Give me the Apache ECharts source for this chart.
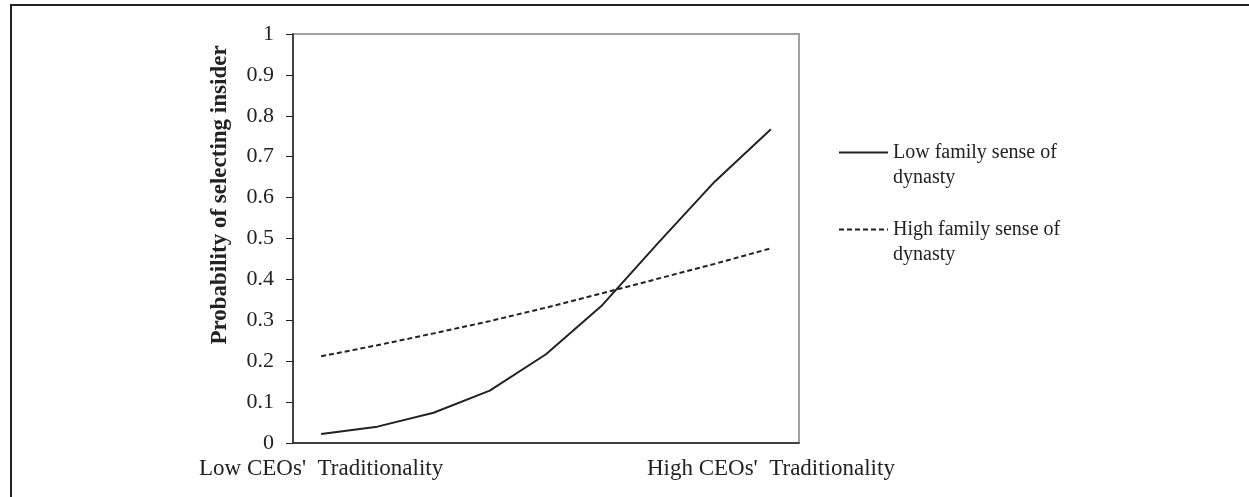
<!DOCTYPE html>
<html>
<head>
<meta charset="utf-8">
<title>Probability of selecting insider</title>
<script src="https://cdn.jsdelivr.net/npm/echarts@6/dist/echarts.min.js"></script>
<style>
  html, body { margin: 0; padding: 0; background: #fff; }
  #chart { width: 1249px; height: 497px; }
</style>
</head>
<body>
<div id="chart"></div>
<script>
// categories along the CEO traditionality axis (only the ends are labelled)
const categories = ['1', '2', '3', '4', '5', '6', '7', '8', '9']
const xTickLabels = ["Low CEOs'  Traditionality", '', '', '', '', '', '', '', "High CEOs'  Traditionality"]

// probabilities
const lowDynasty = [0.022, 0.040, 0.074, 0.128, 0.217, 0.337, 0.490, 0.639, 0.767]
const highDynasty = [0.212, 0.239, 0.268, 0.298, 0.331, 0.366, 0.402, 0.438, 0.476]

const seriesNames = ['Low family sense of\ndynasty', 'High family sense of\ndynasty']

const font = 'Liberation Serif'
const ink = '#222'

const chart = echarts.init(document.getElementById('chart'))
chart.setOption({
  animation: false,
  textStyle: { fontFamily: font, color: ink },
  grid: {
    left: 293,
    right: 450,
    top: 34,
    bottom: 54,
    show: true,
    borderColor: '#a0a0a0',
    borderWidth: 2
  },
  legend: {
    orient: 'vertical',
    left: 838,
    top: 115,
    padding: 0,
    itemWidth: 49,
    itemHeight: 12,
    itemGap: 2,
    itemStyle: { opacity: 0 },
    // blank first line so the sample line sits beside the first text line
    formatter: name => ' \n' + name,
    textStyle: {
      fontFamily: font,
      fontSize: 20,
      color: ink,
      lineHeight: 25
    },
    data: seriesNames
  },
  xAxis: {
    type: 'category',
    boundaryGap: true,
    data: categories,
    axisLine: { lineStyle: { color: ink, width: 1.5 } },
    axisTick: { show: false },
    axisLabel: {
      interval: 0,
      margin: 14,
      fontFamily: font,
      fontSize: 23,
      color: ink,
      formatter: (v, i) => xTickLabels[i]
    }
  },
  yAxis: {
    type: 'value',
    min: 0,
    max: 1,
    interval: 0.1,
    name: 'Probability of selecting insider',
    nameLocation: 'middle',
    nameGap: 61,
    nameTextStyle: {
      fontFamily: font,
      fontSize: 23,
      fontWeight: 'bold',
      color: ink,
      padding: [0, 0, 0, 87]
    },
    axisLine: { show: true, lineStyle: { color: ink, width: 1.5 } },
    axisTick: { show: true, length: 7, lineStyle: { color: ink } },
    splitLine: { show: false },
    axisLabel: {
      margin: 19,
      fontFamily: font,
      fontSize: 22,
      color: ink
    }
  },
  series: [
    {
      name: seriesNames[0],
      type: 'line',
      data: lowDynasty,
      symbol: 'none',
      lineStyle: { color: ink, width: 2, type: 'solid' },
      itemStyle: { color: ink }
    },
    {
      name: seriesNames[1],
      type: 'line',
      data: highDynasty,
      symbol: 'none',
      lineStyle: { color: ink, width: 2, type: [5, 3] },
      itemStyle: { color: ink }
    }
  ],
  graphic: [
    {
      type: 'polyline',
      shape: { points: [[11, 497], [11, 5], [1249, 5]] },
      style: { stroke: ink, lineWidth: 2, fill: null }
    }
  ]
})
</script>
</body>
</html>
